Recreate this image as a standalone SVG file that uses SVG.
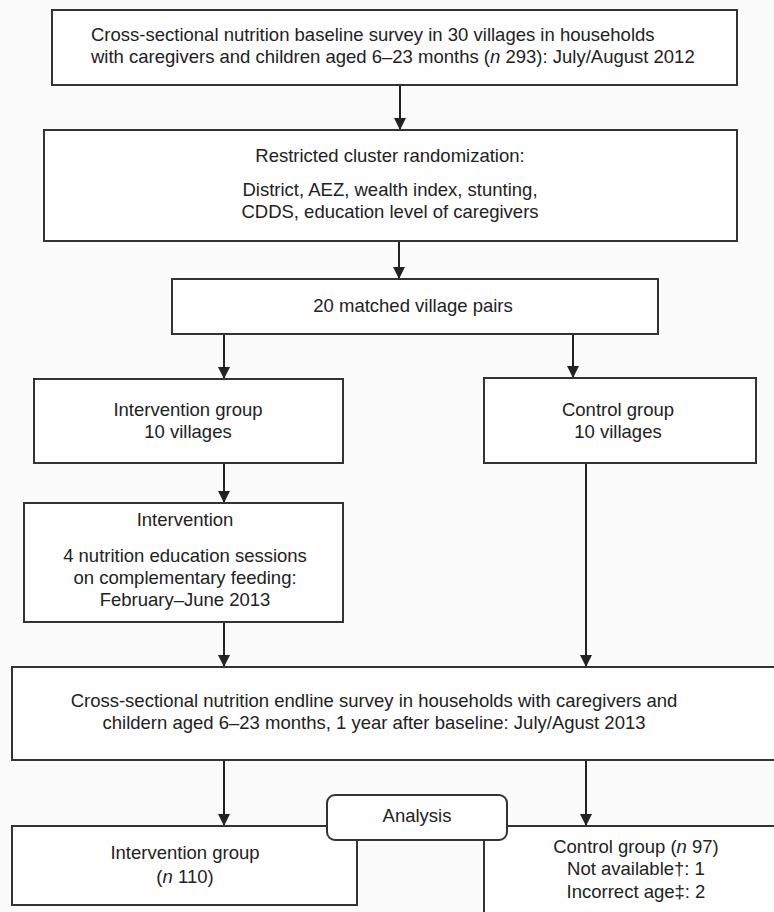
<svg xmlns="http://www.w3.org/2000/svg" width="774" height="912" viewBox="0 0 774 912">
<defs>
<marker id="ah" markerUnits="userSpaceOnUse" markerWidth="12" markerHeight="13" refX="12" refY="6" orient="auto">
<path d="M0,0 L12,6 L0,12 Z" fill="#222"/>
</marker>
<style>
.box{fill:#fefefe;stroke:#333;stroke-width:2}
.t{font-family:"Liberation Sans",Arial,sans-serif;font-size:18.5px;fill:#222}
.c{text-anchor:middle}
.con{stroke:#222;stroke-width:2;fill:none}
</style>
</defs>
<rect width="774" height="912" fill="#fbfbfb"/>
<g id="connectors">
<line class="con" x1="400" y1="85" x2="400" y2="130" marker-end="url(#ah)"/>
<line class="con" x1="399" y1="241" x2="399" y2="279" marker-end="url(#ah)"/>
<line class="con" x1="224" y1="334" x2="224" y2="379" marker-end="url(#ah)"/>
<line class="con" x1="573" y1="334" x2="573" y2="378" marker-end="url(#ah)"/>
<line class="con" x1="224" y1="463" x2="224" y2="503" marker-end="url(#ah)"/>
<line class="con" x1="224" y1="622" x2="224" y2="667" marker-end="url(#ah)"/>
<line class="con" x1="586" y1="463" x2="586" y2="667" marker-end="url(#ah)"/>
<line class="con" x1="224" y1="760" x2="224" y2="826" marker-end="url(#ah)"/>
<line class="con" x1="586" y1="760" x2="586" y2="826" marker-end="url(#ah)"/>
</g>
<g id="baseline">
<rect class="box" x="52" y="10" width="685" height="75"/>
<text class="t" x="91" y="41">Cross-sectional nutrition baseline survey in 30 villages in households</text>
<text class="t" x="91" y="63">with caregivers and children aged 6–23 months (<tspan font-style="italic">n</tspan> 293): July/August 2012</text>
</g>
<g id="randomization">
<rect class="box" x="44" y="130" width="693" height="111"/>
<text class="t c" x="390" y="162">Restricted cluster randomization:</text>
<text class="t c" x="390" y="196">District, AEZ, wealth index, stunting,</text>
<text class="t c" x="390" y="218">CDDS, education level of caregivers</text>
</g>
<g id="pairs">
<rect class="box" x="172" y="279" width="486" height="55"/>
<text class="t c" x="413" y="312">20 matched village pairs</text>
</g>
<g id="intervention-group">
<rect class="box" x="34" y="379" width="309" height="84"/>
<text class="t c" x="188" y="416">Intervention group</text>
<text class="t c" x="188" y="438">10 villages</text>
</g>
<g id="control-group">
<rect class="box" x="484" y="378" width="272" height="85"/>
<text class="t c" x="618" y="416">Control group</text>
<text class="t c" x="618" y="438">10 villages</text>
</g>
<g id="intervention">
<rect class="box" x="24" y="503" width="319" height="119"/>
<text class="t c" x="185" y="526">Intervention</text>
<text class="t c" x="185" y="562">4 nutrition education sessions</text>
<text class="t c" x="185" y="584">on complementary feeding:</text>
<text class="t c" x="185" y="606">February–June 2013</text>
</g>
<g id="endline">
<rect class="box" x="12" y="667" width="780" height="93"/>
<text class="t c" x="374" y="707">Cross-sectional nutrition endline survey in households with caregivers and</text>
<text class="t c" x="374" y="729">childern aged 6–23 months, 1 year after baseline: July/Agust 2013</text>
</g>
<g id="intervention-result">
<rect class="box" x="12" y="826" width="345" height="79"/>
<text class="t c" x="185" y="859">Intervention group</text>
<text class="t c" x="185" y="883">(<tspan font-style="italic">n</tspan> 110)</text>
</g>
<g id="control-result">
<rect class="box" x="484" y="826" width="300" height="100"/>
<text class="t c" x="636" y="853">Control group (<tspan font-style="italic">n</tspan> 97)</text>
<text class="t c" x="636" y="875">Not available†: 1</text>
<text class="t c" x="636" y="898">Incorrect age‡: 2</text>
</g>
<g id="analysis">
<rect class="box" x="327" y="795" width="180" height="45" rx="8" ry="8"/>
<text class="t c" x="417" y="822">Analysis</text>
</g>
</svg>
